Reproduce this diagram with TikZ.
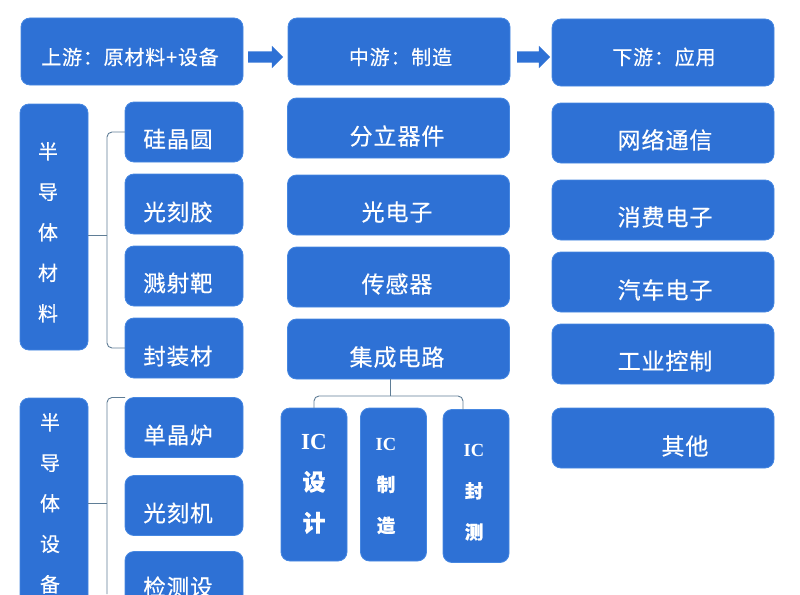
\documentclass[tikz,border=0pt]{standalone}
\usepackage{fontspec}
\setmainfont{Liberation Serif}
\newfontfamily\cjk[LetterSpace=4,FakeBold=0.4]{Noto Sans CJK SC}
\usetikzlibrary{shapes.arrows, positioning}
\definecolor{boxblue}{RGB}{46,113,213}
\definecolor{boxedge}{RGB}{70,135,225}
\definecolor{linkgray}{RGB}{95,125,150}
% text at an offset from the centre of its box
\newcommand{\boxtext}[3]{\raisebox{\dimexpr-#2pt-0.38em\relax}[0pt][0pt]{\makebox[0pt]{\kern#1pt\kern#1pt #3}}}
\newcommand{\stacktext}[3]{\raisebox{-#2pt}[0pt][0pt]{\makebox[0pt]{\kern#1pt\kern#1pt\begin{tabular}[c]{@{}c@{}}#3\end{tabular}}}}

\begin{document}
\begin{tikzpicture}[
        x=1pt, y=-1pt,
        box/.style={rectangle, draw=boxedge, line width=0.8pt, fill=boxblue, text=white, rounded corners=9pt, inner sep=0pt, outer sep=0pt},
        topbox/.style={box, minimum width=222pt, minimum height=67pt, font=\cjk\fontsize{20}{22}\selectfont},
        midbox/.style={box, minimum width=222pt, minimum height=60pt, font=\cjk\fontsize{23}{25}\selectfont},
        sidebox/.style={box, minimum width=118pt, minimum height=60pt, font=\cjk\fontsize{22.5}{25}\selectfont},
        tallbox/.style={box, minimum width=68pt, font=\cjk\fontsize{20}{40.5}\selectfont},
        icbox/.style={box, minimum width=66pt, minimum height=153pt},
        flow/.style={single arrow, draw=none, fill=boxblue, text height=11pt, text depth=0pt, minimum height=35pt, single arrow head extend=5.5pt, inner sep=0pt, outer sep=0pt},
        link/.style={draw=linkgray, line width=0.9pt, rounded corners=5pt}
    ]
        \useasboundingbox (0,0) rectangle (800,594);
        \clip (0,0) rectangle (800,594);

        % Top row
        \node [topbox] (up) at (132,51.5) {\boxtext{-2}{5.5}{上游：原材料+设备}};
        \node [topbox, right=45pt of up] (mid) {\boxtext{1.5}{5.5}{中游：制造}};
        \node [topbox, right=42pt of mid, yshift=-1pt] (down) {\boxtext{1}{4.5}{下游：应用}};
        \node [flow, right=5pt of up, yshift=-5.5pt] (flowa) {};
        \node [flow, right=7pt of mid, yshift=-5.5pt, minimum height=33pt] (flowb) {};

        % Materials
        \node [tallbox, minimum height=246pt] (material) at (54,227) {\stacktext{-6}{10}{半\\导\\体\\材\\料}};
        \node [sidebox] (wafer) at (184,132) {\boxtext{-6}{7}{硅晶圆}};
        \node [sidebox, below=12pt of wafer] (resist) {\boxtext{-6}{8}{光刻胶}};
        \node [sidebox, below=12pt of resist] (target) {\boxtext{-6}{7}{溅射靶}};
        \node [sidebox, below=12pt of target] (package) {\boxtext{-6}{8}{封装材}};

        % Equipment, runs off the bottom
        \node [tallbox, minimum height=212pt] (equip) at (54,504) {\stacktext{-4}{4}{半\\导\\体\\设\\备}};
        \node [sidebox] (furnace) at (184,427.5) {\boxtext{-6}{7.5}{单晶炉}};
        \node [sidebox, below=18pt of furnace] (litho) {\boxtext{-6}{7.5}{光刻机}};
        \node [sidebox, below=16pt of litho] (inspect) {\boxtext{-6}{5.5}{检测设}};

        % Manufacturing
        \node [midbox] (discrete) at (398.5,128) {\boxtext{-1.5}{8}{分立器件}};
        \node [midbox, below=17pt of discrete] (opto) {\boxtext{-1.5}{7}{光电子}};
        \node [midbox, below=12pt of opto] (sensor) {\boxtext{-1.5}{7}{传感器}};
        \node [midbox, below=12pt of sensor] (ic) {\boxtext{-1.5}{8}{集成电路}};
        \node [icbox, font=\bfseries\cjk\fontsize{23}{41}\selectfont] (design) at (314,484.5) {\stacktext{0}{4}{{\rmfamily\bfseries IC}\\设\\计}};
        \node [icbox, font=\bfseries\cjk\fontsize{18.5}{41}\selectfont] (manu) at (393.5,484.5) {\stacktext{-7.5}{3}{{\rmfamily\bfseries IC}\\制\\造}};
        \node [icbox, font=\bfseries\cjk\fontsize{18.5}{41}\selectfont] (packtest) at (476,486) {\stacktext{-2}{8}{{\rmfamily\bfseries IC}\\封\\测}};

        % Applications
        \node [midbox] (network) at (663,133) {\boxtext{2}{7}{网络通信}};
        \node [midbox, below=17pt of network] (consumer) {\boxtext{2}{7}{消费电子}};
        \node [midbox, below=12pt of consumer] (auto) {\boxtext{2}{8}{汽车电子}};
        \node [midbox, below=12pt of auto] (control) {\boxtext{2}{7}{工业控制}};
        \node [midbox, below=24pt of control] (other) {\boxtext{22}{8}{其他}};

        % Edges
        \coordinate (matbus) at (107,235);
        \coordinate (eqbus) at (107,503);
        \coordinate (eqend) at (107,594);
        \coordinate (icbus) at (390,396);
        \coordinate (testdrop) at (463,410);
        \path [link] (material.east |- matbus) -- (matbus);
        \path [link] (wafer.west) -| (matbus);
        \path [link] (package.west) -| (matbus);
        \path [link] (equip.east |- eqbus) -- (eqbus);
        \path [link] (furnace.north west) -| (eqend);
        \path [link] (ic.south -| icbus) -- (icbus);
        \path [link] (icbus) -| (design.north);
        \path [link] (icbus) -| (testdrop);
    \end{tikzpicture}
\end{document}
